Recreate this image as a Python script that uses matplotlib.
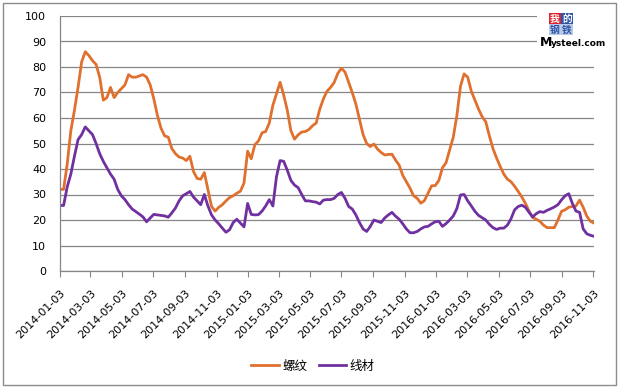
import matplotlib
matplotlib.use('Agg')
import matplotlib.pyplot as plt
from matplotlib.patches import Rectangle
import pandas as pd

plt.rcParams['font.family'] = ['DejaVu Sans', 'Noto Sans CJK SC']

# weekly series, starting 2014-01-03
start_date = '2014-01-03'
rebar = [
    32, 32, 42, 55, 63, 72, 82, 86, 84.5, 82.5, 81, 76, 67, 68, 72, 68, 70, 71.5, 73, 77,
    76, 76, 76.5, 77, 76, 73, 67.5, 61, 56, 53, 52.5, 48, 46, 44.7, 44.3, 43.3, 45, 39, 36.3, 36,
    38.6, 32, 25.3, 23.5, 25, 26, 27.5, 28.8, 29.5, 30.5, 31.3, 34.5, 47, 44, 49.5, 51, 54.2, 54.7, 58, 65,
    69.5, 74, 69, 63, 55, 51.7, 53.4, 54.5, 54.7, 55.5, 57, 58, 63.5, 67.5, 70.5, 72, 74, 77.5, 79.5, 78,
    74, 70, 65.5, 59.5, 53.5, 50, 48.8, 49.8, 47.8, 46.5, 45.5, 45.7, 45.8, 43.5, 41.5, 37.5, 35, 32.5, 29.5, 28.5,
    26.6, 27.6, 30.5, 33.4, 33.5, 35.5, 40.5, 42.5, 47.5, 52.5, 61, 72.5, 77.3, 76, 70.5, 67, 63.5, 60.5, 58.5, 53,
    48, 44.3, 41, 38, 36, 35, 33.2, 31.2, 29, 26.5, 23.5, 21, 20.3, 19.5, 18, 17, 17, 17, 20, 23.4,
    24, 25, 25.3, 25.5, 27.8, 25, 21.5, 19.5, 18.8,
]
wire = [
    25.7, 25.7, 33, 38, 45, 51.5, 53.5, 56.5, 55, 53.5, 50, 46, 43, 40.5, 38, 36, 32, 29.5, 28, 26,
    24.3, 23.3, 22.3, 21.2, 19.3, 20.8, 22.2, 22, 21.8, 21.6, 21.1, 22.8, 24.7, 27.5, 29.5, 30.3, 31.2, 29, 27.5, 26,
    30, 25.5, 22, 20, 18.5, 16.8, 15.2, 16.2, 19, 20.3, 18.8, 17.3, 26.5, 22.2, 22, 22.1, 23.5, 25.5, 28, 25.5,
    37, 43.3, 43, 39.5, 35.5, 33.7, 32.7, 30, 27.5, 27.5, 27.2, 27, 26.3, 27.8, 28, 28, 28.5, 30, 30.8, 28.5,
    25.3, 24.3, 22, 19, 16.5, 15.5, 17.5, 20, 19.5, 19, 20.8, 22, 23, 21.5, 20.3, 18.5, 16.5, 15, 15, 15.5,
    16.5, 17.3, 17.5, 18.5, 19.3, 19.5, 17.5, 18.6, 20, 21.6, 24.5, 29.8, 30, 27.5, 25.5, 23.4, 21.8, 20.9, 20, 18.3,
    17, 16.3, 16.8, 16.8, 18, 20.5, 24, 25.3, 25.8, 25, 23, 21.2, 22.5, 23.3, 23, 23.8, 24.4, 25.1, 26, 27.9,
    29.5, 30.3, 26.5, 23.5, 23, 16.5, 14.6, 14, 13.6,
]
tick_labels = [
    '2014-01-03', '2014-03-03', '2014-05-03', '2014-07-03', '2014-09-03', '2014-11-03',
    '2015-01-03', '2015-03-03', '2015-05-03', '2015-07-03', '2015-09-03', '2015-11-03',
    '2016-01-03', '2016-03-03', '2016-05-03', '2016-07-03', '2016-09-03', '2016-11-03',
]
names = ['螺纹', '线材']

dates = pd.date_range(start_date, periods=len(rebar), freq='7D')
ticks = pd.to_datetime(tick_labels)

fig = plt.figure(figsize=(6.23, 3.89), dpi=100)
ax = fig.add_axes([60 / 623, 1 - 271 / 389, 534 / 623, 255 / 389])

grid_c = '#868686'
ax.plot(dates, rebar, color='#E0702E', lw=2.0, label=names[0], solid_joinstyle='round')
ax.plot(dates, wire, color='#7030A0', lw=2.0, label=names[1], solid_joinstyle='round')

ax.set_ylim(0, 100)
ax.set_yticks(range(0, 101, 10))
ax.set_xlim(ticks[0], max(ticks[-1], dates[-1]))
ax.set_xticks(ticks)
ax.set_xticklabels(tick_labels, rotation=45, ha='right', rotation_mode='anchor', fontsize=8)
ax.tick_params(axis='x', length=4, color=grid_c, pad=8)
ax.tick_params(axis='y', length=0, pad=10, labelsize=8)
ax.yaxis.grid(True, color=grid_c, lw=0.9)
ax.set_axisbelow(True)
for s in ['top', 'right']:
    ax.spines[s].set_visible(False)
for s in ['left', 'bottom']:
    ax.spines[s].set_color(grid_c)
    ax.spines[s].set_linewidth(0.9)

fig.legend(loc='center', bbox_to_anchor=(313 / 623, 1 - 366 / 389), ncol=2, frameon=False,
           fontsize=9, handlelength=2.2, handletextpad=0.3, columnspacing=0.9)

# logo area
def fx(px):
    return px / 623

def fy(py):
    return 1 - py / 389

fig.add_artist(Rectangle((fx(537), fy(50)), fx(64), 42 / 389, transform=fig.transFigure,
                         facecolor='white', edgecolor='none', zorder=5))
logo = [('我', 549, 13, '#E0242B', 'white'), ('的', 561, 13, '#2D56A8', 'white'),
        ('钢', 549, 24, '#B9C9E8', '#2D56A8'), ('铁', 561, 24, '#B9C9E8', '#2D56A8')]
for ch, x0, y0, bg, fg in logo:
    fig.add_artist(Rectangle((fx(x0), fy(y0 + 11)), fx(12), 11 / 389, transform=fig.transFigure,
                             facecolor=bg, edgecolor='none', zorder=6))
    fig.text(fx(x0 + 6), fy(y0 + 5.5), ch, color=fg, fontsize=7, ha='center', va='center',
             family=['Noto Sans CJK SC'], weight='bold', zorder=7)
fig.text(fx(540), fy(42), 'M', fontsize=9, weight='bold', ha='left', va='center', zorder=7)
fig.text(fx(551), fy(43), 'ysteel.com', fontsize=6.5, weight='bold', ha='left', va='center', zorder=7)

# chart frame
fig.add_artist(Rectangle((fx(3), fy(385)), fx(613), 382 / 389, transform=fig.transFigure,
                         facecolor='none', edgecolor='#8c8c8c', lw=1.0, zorder=8))

fig.savefig('out.png', dpi=100)
